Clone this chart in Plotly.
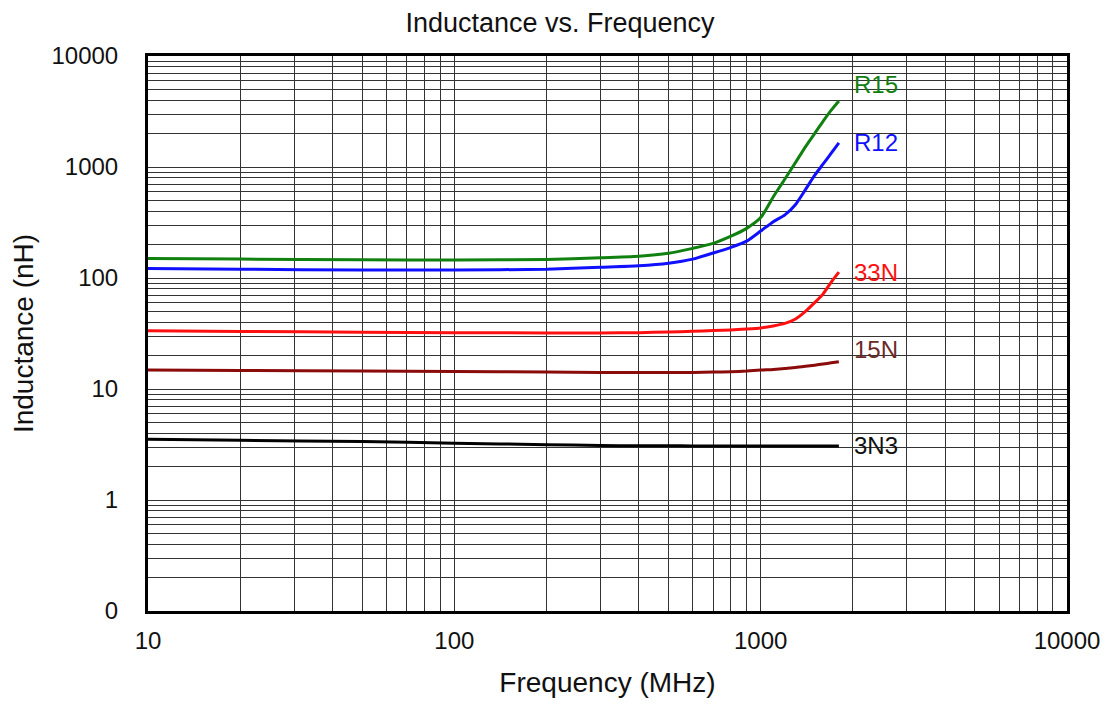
import numpy as np
import plotly.graph_objects as go

freq_mhz = [10, 20, 50, 100, 200, 300, 400, 500, 600, 700, 800, 900, 1000,
            1100, 1200, 1300, 1400, 1500, 1600, 1700, 1800]

r15 = [150, 148, 146, 145.5, 147, 152, 157, 167, 185, 205, 238, 280, 350,
       540, 780, 1100, 1520, 2000, 2590, 3250, 3930]
r12 = [122, 120, 118, 118, 120, 125, 129, 136, 148, 168, 189, 215, 265,
       322, 370, 460, 625, 840, 1065, 1335, 1650]
n33 = [33.5, 33.0, 32.5, 32.2, 32.0, 32.0, 32.2, 32.6, 33.1, 33.6, 34.0,
       34.7, 35.5, 37.0, 39.0, 42.7, 50, 60, 72, 92, 113]
n15 = [14.8, 14.7, 14.5, 14.4, 14.2, 14.1, 14.1, 14.1, 14.1, 14.2, 14.3,
       14.5, 14.8, 15.0, 15.3, 15.6, 16.0, 16.4, 16.8, 17.2, 17.6]
n3n3 = [3.52, 3.45, 3.36, 3.25, 3.15, 3.10, 3.08, 3.08, 3.07, 3.07, 3.07,
        3.07, 3.07, 3.07, 3.07, 3.07, 3.07, 3.07, 3.07, 3.07, 3.07]

series = [
    ("R15", r15, "#108010", "#108010", 17),
    ("R12", r12, "#1010ff", "#1010ff", 0),
    ("33N", n33, "#ff1010", "#ff1010", 0),
    ("15N", n15, "#8b0a0a", "#6a2a2a", 12),
    ("3N3", n3n3, "#000000", "#111111", 0),
]

x_ticks_major = [10, 100, 1000, 10000]
x_tick_labels = ["10", "100", "1000", "10000"]
y_ticks_major = [0.1, 1, 10, 100, 1000, 10000]
y_tick_labels = ["0", "1", "10", "100", "1000", "10000"]

FONT = "Liberation Sans, Arial, sans-serif"


def log_ticks(majors, labels):
    vals, texts = [], []
    for i, m in enumerate(majors):
        vals.append(m)
        texts.append(labels[i])
        if i < len(majors) - 1:
            for k in range(2, 10):
                vals.append(m * k)
                texts.append("")
    return vals, texts


xv, xt = log_ticks(x_ticks_major, x_tick_labels)
yv, yt = log_ticks(y_ticks_major, y_tick_labels)

fig = go.Figure()
for name, vals, color, lcolor, ysh in series:
    fig.add_trace(go.Scatter(x=freq_mhz, y=vals, mode="lines", name=name,
                             line=dict(color=color, width=3, shape="spline",
                                       smoothing=0.6),
                             showlegend=False))
    fig.add_annotation(x=np.log10(freq_mhz[-1]), y=np.log10(vals[-1]),
                       text=name, showarrow=False, xanchor="left",
                       yanchor="middle", xshift=13, yshift=ysh,
                       font=dict(family=FONT, size=24, color=lcolor))

fig.update_layout(
    width=1104, height=697,
    margin=dict(l=139, r=35, t=48, b=86),
    paper_bgcolor="white", plot_bgcolor="white",
    title=dict(text="Inductance vs. Frequency", x=0.5, xanchor="center",
               y=0.9785, yanchor="middle",
               font=dict(family=FONT, size=27, color="#111")),
    font=dict(family=FONT, color="#111"),
)
fig.update_xaxes(type="log", range=[1, 4], tickvals=xv, ticktext=xt,
                 showgrid=True, gridcolor="#333333", gridwidth=1.2,
                 showline=True, linecolor="black", linewidth=3, mirror=True,
                 ticks="", ticklabelstandoff=6, zeroline=False,
                 ticklabeloverflow="allow",
                 tickfont=dict(family=FONT, size=24, color="#111"),
                 title=dict(text="Frequency (MHz)", standoff=20,
                            font=dict(family=FONT, size=28, color="#111")))
fig.update_yaxes(type="log", range=[-1, 4], tickvals=yv, ticktext=yt,
                 showgrid=True, gridcolor="#333333", gridwidth=1.2,
                 showline=True, linecolor="black", linewidth=3, mirror=True,
                 ticks="", ticklabelstandoff=22, zeroline=False,
                 tickfont=dict(family=FONT, size=24, color="#111"),
                 title=dict(text="Inductance (nH)", standoff=12,
                            font=dict(family=FONT, size=28, color="#111")))

fig.write_html("out.html")
